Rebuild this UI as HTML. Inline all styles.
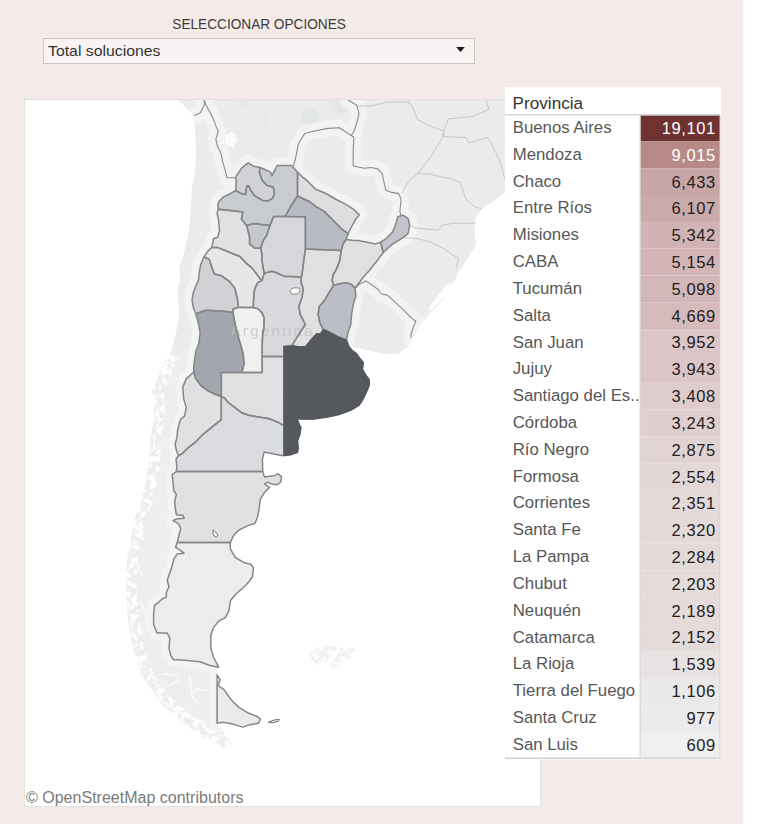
<!DOCTYPE html>
<html><head><meta charset="utf-8"><style>
html,body{margin:0;padding:0;}
body{width:760px;height:824px;position:relative;overflow:hidden;background:#ffffff;}
</style></head><body>
<svg width="760" height="824" viewBox="0 0 760 824" style="position:absolute;left:0;top:0">
<rect x="0" y="0" width="760" height="824" fill="#ffffff"/>
<rect x="0" y="0" width="742.2" height="824" fill="#f4ebe9"/>
<defs><linearGradient id="shd" x1="0" x2="1" y1="0" y2="0"><stop offset="0" stop-color="#000" stop-opacity="0.07"/><stop offset="1" stop-color="#000" stop-opacity="0"/></linearGradient></defs>
<rect x="742.2" y="0" width="2.3" height="824" fill="url(#shd)"/>
<text x="259.1" y="29.4" font-family="Liberation Sans, sans-serif" font-size="15" fill="#3b3b3b" text-anchor="middle" textLength="173.5" lengthAdjust="spacingAndGlyphs" >SELECCIONAR OPCIONES</text>
<rect x="43.5" y="38.5" width="431" height="25" fill="#f9f4f3" stroke="#c8c5c4" stroke-width="1"/>
<text x="48.0" y="56.2" font-family="Liberation Sans, sans-serif" font-size="15" fill="#333333" text-anchor="start" textLength="112.5" lengthAdjust="spacingAndGlyphs" >Total soluciones</text>
<path d="M456.2 47 L464.8 47 L460.5 52 Z" fill="#1a1a1a"/>
<rect x="24.5" y="99.5" width="516" height="707" fill="#ffffff" stroke="#e2e2e2" stroke-width="1"/>
<filter id="speck" filterUnits="userSpaceOnUse" x="100" y="330" width="270" height="430"><feTurbulence type="fractalNoise" baseFrequency="0.16" numOctaves="3" seed="11" result="n"/><feColorMatrix in="n" type="matrix" values="0 0 0 0 1  0 0 0 0 1  0 0 0 0 1  7 0 0 0 -3.3" result="m"/><feComposite in="m" in2="SourceGraphic" operator="in"/></filter>
<clipPath id="mapclip"><rect x="25" y="100" width="515" height="706"/></clipPath>
<g clip-path="url(#mapclip)">
<rect x="24.5" y="99.5" width="516" height="708" fill="#ffffff"/>
<path d="M178.2 100.0 L545.0 100.0 L545.0 185.0 L505.3 192.4 L495.8 199.5 L481.6 209.0 L475.7 218.4 L474.5 232.6 L476.2 244.2 L467.9 258.4 L460.8 267.9 L453.7 282.1 L449.0 286.8 L441.8 301.1 L430.0 312.9 L420.5 324.7 L413.4 336.6 L408.7 346.1 L399.2 353.2 L387.4 354.3 L375.5 352.0 L363.7 349.6 L354.2 347.2 L349.5 343.7 L348.7 346.3 L352.1 350.5 L356.7 353.8 L359.0 357.4 L363.2 362.5 L362.4 369.3 L365.8 375.3 L369.2 379.6 L369.4 384.7 L366.6 391.6 L362.4 400.1 L359.0 405.3 L350.4 410.4 L338.4 414.7 L326.4 417.2 L312.8 419.0 L300.8 419.0 L297.4 418.1 L298.2 422.4 L300.8 427.5 L299.9 434.3 L297.4 441.2 L298.2 448.0 L297.4 452.3 L291.4 454.5 L284.0 455.5 L281.2 455.5 L272.6 453.8 L264.1 452.1 L262.4 459.0 L262.8 471.6 L264.5 477.1 L269.6 476.3 L274.7 475.4 L278.2 473.7 L281.6 477.1 L280.7 482.2 L276.5 484.8 L271.3 483.9 L267.9 482.2 L264.5 483.9 L269.6 487.4 L264.5 492.5 L260.2 499.3 L259.3 507.9 L257.6 516.4 L255.1 523.3 L247.4 525.9 L238.8 530.1 L233.7 535.3 L230.3 542.6 L230.3 548.9 L235.4 557.5 L244.0 562.6 L250.8 564.3 L253.4 567.8 L252.5 576.3 L250.0 580.5 L246.0 585.0 L240.5 590.0 L235.0 595.0 L230.5 600.5 L228.8 610.8 L225.4 617.6 L218.6 621.1 L213.4 627.9 L210.9 634.7 L210.9 648.4 L213.4 657.0 L218.6 667.2 L217.1 672.0 L217.1 674.8 L220.1 679.7 L218.1 685.7 L224.0 689.6 L230.9 699.5 L238.8 707.4 L248.7 713.3 L256.6 716.2 L260.5 719.2 L258.5 723.2 L248.7 725.1 L242.8 727.1 L232.9 724.1 L223.0 722.2 L217.1 723.2 L225.0 735.0 L232.0 744.0 L222.0 748.0 L205.9 738.2 L185.5 724.6 L161.7 704.2 L143.0 677.0 L132.8 649.8 L127.7 615.9 L126.0 581.9 L127.7 554.7 L136.2 514.0 L141.7 500.0 L144.7 487.6 L148.5 466.2 L150.5 437.1 L154.4 417.7 L152.4 390.5 L164.1 363.3 L171.6 350.0 L173.3 343.2 L176.7 329.5 L179.3 315.8 L178.4 302.1 L177.6 288.4 L180.1 281.6 L179.3 266.2 L181.8 261.1 L185.3 247.4 L187.8 237.1 L190.1 219.7 L191.0 202.6 L191.8 189.0 L193.6 180.4 L195.3 168.4 L196.1 151.3 L195.3 134.2 L194.4 120.5 L191.8 113.7 L183.3 105.1 Z" fill="#ebebeb"/>
<path d="M301 112 L306 108 L313 109 L318 113 L320 119 L316 125 L309 126 L303 122 Z" fill="#e3e7e3"/>
<path d="M330 101 L338 100 L346 104 L347 110 L342 114 L335 112 L331 107 Z" fill="#e4e8e4"/>
<path d="M239 101 L246 101 L247 106 L241 107 Z" fill="#e4e7e4"/>
<path d="M263 114 L266 112 L268 120 L265 126 L262 121 Z" fill="#e6e8e6"/>
<clipPath id="landclip"><path d="M178.2 100.0 L545.0 100.0 L545.0 185.0 L505.3 192.4 L495.8 199.5 L481.6 209.0 L475.7 218.4 L474.5 232.6 L476.2 244.2 L467.9 258.4 L460.8 267.9 L453.7 282.1 L449.0 286.8 L441.8 301.1 L430.0 312.9 L420.5 324.7 L413.4 336.6 L408.7 346.1 L399.2 353.2 L387.4 354.3 L375.5 352.0 L363.7 349.6 L354.2 347.2 L349.5 343.7 L348.7 346.3 L352.1 350.5 L356.7 353.8 L359.0 357.4 L363.2 362.5 L362.4 369.3 L365.8 375.3 L369.2 379.6 L369.4 384.7 L366.6 391.6 L362.4 400.1 L359.0 405.3 L350.4 410.4 L338.4 414.7 L326.4 417.2 L312.8 419.0 L300.8 419.0 L297.4 418.1 L298.2 422.4 L300.8 427.5 L299.9 434.3 L297.4 441.2 L298.2 448.0 L297.4 452.3 L291.4 454.5 L284.0 455.5 L281.2 455.5 L272.6 453.8 L264.1 452.1 L262.4 459.0 L262.8 471.6 L264.5 477.1 L269.6 476.3 L274.7 475.4 L278.2 473.7 L281.6 477.1 L280.7 482.2 L276.5 484.8 L271.3 483.9 L267.9 482.2 L264.5 483.9 L269.6 487.4 L264.5 492.5 L260.2 499.3 L259.3 507.9 L257.6 516.4 L255.1 523.3 L247.4 525.9 L238.8 530.1 L233.7 535.3 L230.3 542.6 L230.3 548.9 L235.4 557.5 L244.0 562.6 L250.8 564.3 L253.4 567.8 L252.5 576.3 L250.0 580.5 L246.0 585.0 L240.5 590.0 L235.0 595.0 L230.5 600.5 L228.8 610.8 L225.4 617.6 L218.6 621.1 L213.4 627.9 L210.9 634.7 L210.9 648.4 L213.4 657.0 L218.6 667.2 L217.1 672.0 L217.1 674.8 L220.1 679.7 L218.1 685.7 L224.0 689.6 L230.9 699.5 L238.8 707.4 L248.7 713.3 L256.6 716.2 L260.5 719.2 L258.5 723.2 L248.7 725.1 L242.8 727.1 L232.9 724.1 L223.0 722.2 L217.1 723.2 L225.0 735.0 L232.0 744.0 L222.0 748.0 L205.9 738.2 L185.5 724.6 L161.7 704.2 L143.0 677.0 L132.8 649.8 L127.7 615.9 L126.0 581.9 L127.7 554.7 L136.2 514.0 L141.7 500.0 L144.7 487.6 L148.5 466.2 L150.5 437.1 L154.4 417.7 L152.4 390.5 L164.1 363.3 L171.6 350.0 L173.3 343.2 L176.7 329.5 L179.3 315.8 L178.4 302.1 L177.6 288.4 L180.1 281.6 L179.3 266.2 L181.8 261.1 L185.3 247.4 L187.8 237.1 L190.1 219.7 L191.0 202.6 L191.8 189.0 L193.6 180.4 L195.3 168.4 L196.1 151.3 L195.3 134.2 L194.4 120.5 L191.8 113.7 L183.3 105.1 Z"/></clipPath>
<g clip-path="url(#landclip)">
<path d="M235.5 177.5 L236.3 182.0 L235.7 190.5" fill="none" stroke="#f3f3f3" stroke-width="16" stroke-linejoin="round" stroke-linecap="round"/>
<path d="M235.7 190.5 L229.1 194.3 L223.2 197.1 L218.8 201.5 L217.9 205.0 L218.3 209.3" fill="none" stroke="#f3f3f3" stroke-width="16" stroke-linejoin="round" stroke-linecap="round"/>
<path d="M218.3 209.3 L217.1 213.2 L218.6 220.0 L219.5 230.3 L217.8 237.1 L213.5 238.8 L211.8 247.4" fill="none" stroke="#f3f3f3" stroke-width="16" stroke-linejoin="round" stroke-linecap="round"/>
<path d="M211.8 247.4 L207.5 251.6 L204.1 256.8" fill="none" stroke="#f3f3f3" stroke-width="16" stroke-linejoin="round" stroke-linecap="round"/>
<path d="M204.1 256.8 L200.7 264.5 L199.3 272.0 L198.5 280.0 L195.5 286.7 L193.0 293.6 L192.1 300.4 L193.2 307.2 L195.8 313.8" fill="none" stroke="#f3f3f3" stroke-width="16" stroke-linejoin="round" stroke-linecap="round"/>
<path d="M195.8 313.8 L197.5 320.0 L199.0 326.1 L200.2 333.3 L198.7 343.6 L196.1 350.4 L194.4 360.7 L193.6 368.0 L193.8 372.0" fill="none" stroke="#f3f3f3" stroke-width="16" stroke-linejoin="round" stroke-linecap="round"/>
<path d="M193.8 372.0 L190.0 375.5 L186.3 378.6 L182.8 387.1 L183.7 399.1 L186.3 407.6 L184.5 416.2 L180.3 419.6 L177.7 429.9 L176.8 438.4 L175.1 443.6 L176.0 448.7 L177.7 453.8 L178.6 455.5" fill="none" stroke="#f3f3f3" stroke-width="16" stroke-linejoin="round" stroke-linecap="round"/>
<path d="M178.6 455.5 L176.0 459.0 L176.8 466.0 L176.4 471.6" fill="none" stroke="#f3f3f3" stroke-width="16" stroke-linejoin="round" stroke-linecap="round"/>
<path d="M176.4 471.6 L172.1 474.5 L173.0 482.2 L173.8 490.8 L176.4 494.2 L174.7 501.1 L175.5 509.6 L176.4 514.7 L183.2 515.6 L184.1 518.2 L176.4 519.0 L173.0 520.7 L178.1 523.3 L180.7 528.4 L179.0 535.3 L177.2 542.6" fill="none" stroke="#f3f3f3" stroke-width="16" stroke-linejoin="round" stroke-linecap="round"/>
<path d="M177.2 542.6 L175.5 547.2 L180.7 550.7 L184.1 553.2 L177.2 554.1 L173.8 559.2 L172.1 566.1 L168.7 576.3 L167.2 580.0 L169.0 586.8 L166.4 592.0 L166.2 597.1 L162.1 599.0 L158.7 602.2 L154.4 605.7 L153.6 614.2 L153.6 624.5 L157.0 633.0 L167.2 633.0 L169.8 638.2 L169.0 648.4 L170.7 655.3 L173.2 659.5 L187.8 660.4 L199.7 661.8 L210.0 665.5 L218.6 667.2" fill="none" stroke="#f3f3f3" stroke-width="16" stroke-linejoin="round" stroke-linecap="round"/>
<path d="M235.7 190.5 L236.3 182.0 L235.5 177.5 L236.3 176.1 L241.6 168.2 L248.2 162.9 L253.4 166.2 L260.0 167.5" fill="none" stroke="#f3f3f3" stroke-width="16" stroke-linejoin="round" stroke-linecap="round"/>
<path d="M260.0 167.5 L265.0 169.5 L270.5 172.1 L271.8 176.1 L277.1 165.5 L291.6 165.5 L297.5 172.1" fill="none" stroke="#f3f3f3" stroke-width="16" stroke-linejoin="round" stroke-linecap="round"/>
<path d="M297.5 172.1 L302.6 177.2 L307.1 180.7 L315.7 189.2 L325.9 193.5 L336.2 199.5 L346.4 204.6 L354.1 209.7 L359.3 214.9 L355.9 219.1 L352.4 225.1 L349.9 230.3 L348.2 233.7" fill="none" stroke="#f3f3f3" stroke-width="16" stroke-linejoin="round" stroke-linecap="round"/>
<path d="M348.2 233.7 L346.0 239.5" fill="none" stroke="#f3f3f3" stroke-width="16" stroke-linejoin="round" stroke-linecap="round"/>
<path d="M346.0 239.5 L352.0 240.2 L358.4 240.5 L367.0 242.2 L375.5 243.9 L380.7 242.2" fill="none" stroke="#f3f3f3" stroke-width="16" stroke-linejoin="round" stroke-linecap="round"/>
<path d="M380.7 242.2 L385.8 238.8 L392.6 232.0 L396.1 223.4 L397.8 216.6 L402.9 215.2 L408.0 218.3 L409.7 225.1 L408.0 233.7 L401.2 238.8 L392.6 244.0 L383.2 252.5" fill="none" stroke="#f3f3f3" stroke-width="16" stroke-linejoin="round" stroke-linecap="round"/>
<path d="M383.2 252.5 L375.5 262.8 L368.7 271.3 L363.6 276.8 L358.4 283.7 L355.0 288.3" fill="none" stroke="#f3f3f3" stroke-width="16" stroke-linejoin="round" stroke-linecap="round"/>
<path d="M355.0 288.3 L355.9 295.7 L353.3 304.2 L351.6 314.5 L350.7 324.7 L348.2 331.6 L346.4 340.1" fill="none" stroke="#f3f3f3" stroke-width="16" stroke-linejoin="round" stroke-linecap="round"/>
<path d="M203.8 100.0 L204.7 103.4 L203.0 107.7 L200.4 112.8 L194.4 115.4" fill="none" stroke="#f3f3f3" stroke-width="16" stroke-linejoin="round" stroke-linecap="round"/>
<path d="M204.2 101.0 L206.5 105.9 L212.4 117.1 L216.5 127.4 L218.4 130.8 L215.8 139.3 L217.5 146.2 L220.9 153.0 L222.6 161.6 L225.2 170.1 L226.9 177.8 L234.6 177.8 L235.5 177.5" fill="none" stroke="#f3f3f3" stroke-width="16" stroke-linejoin="round" stroke-linecap="round"/>
<path d="M293.5 166.0 L296.1 155.9 L298.2 144.3 L304.7 133.5 L313.4 131.3 L327.9 128.4 L339.5 127.7 L351.1 135.6 L353.9 137.1" fill="none" stroke="#f3f3f3" stroke-width="16" stroke-linejoin="round" stroke-linecap="round"/>
<path d="M348.2 100.0 L356.8 105.2 L359.0 113.9 L356.8 122.6 L354.0 131.3 L351.1 135.6" fill="none" stroke="#f3f3f3" stroke-width="16" stroke-linejoin="round" stroke-linecap="round"/>
<path d="M353.9 137.1 L353.2 148.7 L353.2 166.0 L364.1 168.2 L371.3 167.5 L377.4 168.7 L382.1 173.4 L385.7 190.0 L391.6 192.4 L398.7 193.6 L401.1 199.5 L399.9 211.3 L401.1 216.1 L402.9 215.2" fill="none" stroke="#f3f3f3" stroke-width="16" stroke-linejoin="round" stroke-linecap="round"/>
<path d="M355.0 288.3 L358.9 284.5 L366.0 280.9 L377.9 289.2 L381.4 294.0 L387.4 295.1 L401.6 308.2 L411.1 317.6 L415.8 321.2 L413.4 327.1 L411.1 334.2 L411.1 337.8" fill="none" stroke="#f3f3f3" stroke-width="16" stroke-linejoin="round" stroke-linecap="round"/>
</g>
<path d="M196.1 350.4 L194.4 360.7 L193.6 368.0 L193.8 372.0 L190.0 375.5 L186.3 378.6 L182.8 387.1 L183.7 399.1 L186.3 407.6 L184.5 416.2 L180.3 419.6 L177.7 429.9 L176.8 438.4 L175.1 443.6 L176.0 448.7 L177.7 453.8 L178.6 455.5 L176.0 459.0 L176.8 466.0 L176.4 471.6 L172.1 474.5 L173.0 482.2 L173.8 490.8 L176.4 494.2 L174.7 501.1 L175.5 509.6 L176.4 514.7 L183.2 515.6 L184.1 518.2 L176.4 519.0 L173.0 520.7 L178.1 523.3 L180.7 528.4 L179.0 535.3 L177.2 542.6 L175.5 547.2 L180.7 550.7 L184.1 553.2 L177.2 554.1 L173.8 559.2 L172.1 566.1 L168.7 576.3 L167.2 580.0 L169.0 586.8 L166.4 592.0 L166.2 597.1 L162.1 599.0 L158.7 602.2 L154.4 605.7 L153.6 614.2 L153.6 624.5 L157.0 633.0 L167.2 633.0 L169.8 638.2 L169.0 648.4 L170.7 655.3 L173.2 659.5 L187.8 660.4 L199.7 661.8 L210.0 665.5 L218.6 667.2 L217.1 672.0 L217.1 723.2 L225.0 735.0 L232.0 744.0 L222.0 748.0 L205.9 738.2 L185.5 724.6 L161.7 704.2 L143.0 677.0 L132.8 649.8 L127.7 615.9 L126.0 581.9 L127.7 554.7 L136.2 514.0 L141.7 500.0 L144.7 487.6 L148.5 466.2 L150.5 437.1 L154.4 417.7 L152.4 390.5 L164.1 363.3 L171.6 350.0 Z" fill="#eeeeee" clip-path="url(#landclip)"/>
<path d="M195.8 313.8 L197.5 320.0 L199.0 326.1 L200.2 333.3 L198.7 343.6 L196.1 350.4 L194.4 360.7 L193.6 368.0 L193.8 372.0" fill="none" stroke="#f4f4f4" stroke-width="14" stroke-linejoin="round" stroke-linecap="round" clip-path="url(#landclip)"/>
<path d="M193.8 372.0 L190.0 375.5 L186.3 378.6 L182.8 387.1 L183.7 399.1 L186.3 407.6 L184.5 416.2 L180.3 419.6 L177.7 429.9 L176.8 438.4 L175.1 443.6 L176.0 448.7 L177.7 453.8 L178.6 455.5" fill="none" stroke="#f4f4f4" stroke-width="14" stroke-linejoin="round" stroke-linecap="round" clip-path="url(#landclip)"/>
<path d="M178.6 455.5 L176.0 459.0 L176.8 466.0 L176.4 471.6" fill="none" stroke="#f4f4f4" stroke-width="14" stroke-linejoin="round" stroke-linecap="round" clip-path="url(#landclip)"/>
<path d="M176.4 471.6 L172.1 474.5 L173.0 482.2 L173.8 490.8 L176.4 494.2 L174.7 501.1 L175.5 509.6 L176.4 514.7 L183.2 515.6 L184.1 518.2 L176.4 519.0 L173.0 520.7 L178.1 523.3 L180.7 528.4 L179.0 535.3 L177.2 542.6" fill="none" stroke="#f4f4f4" stroke-width="14" stroke-linejoin="round" stroke-linecap="round" clip-path="url(#landclip)"/>
<path d="M177.2 542.6 L175.5 547.2 L180.7 550.7 L184.1 553.2 L177.2 554.1 L173.8 559.2 L172.1 566.1 L168.7 576.3 L167.2 580.0 L169.0 586.8 L166.4 592.0 L166.2 597.1 L162.1 599.0 L158.7 602.2 L154.4 605.7 L153.6 614.2 L153.6 624.5 L157.0 633.0 L167.2 633.0 L169.8 638.2 L169.0 648.4 L170.7 655.3 L173.2 659.5 L187.8 660.4 L199.7 661.8 L210.0 665.5 L218.6 667.2" fill="none" stroke="#f4f4f4" stroke-width="14" stroke-linejoin="round" stroke-linecap="round" clip-path="url(#landclip)"/>
<path d="M217.1 668.0 L217.1 726.0" fill="none" stroke="#f4f4f4" stroke-width="14" stroke-linejoin="round" stroke-linecap="round" clip-path="url(#landclip)"/>
<path d="M171.6 350.0 L164.1 363.3 L152.4 390.5 L154.4 417.7 L150.5 437.1 L148.5 466.2 L144.7 487.6 L141.7 500.0 L136.2 514.0 L127.7 554.7 L126.0 581.9 L127.7 615.9 L132.8 649.8 L143.0 677.0 L161.7 704.2 L185.5 724.6 L205.9 738.2 L222.0 748.0 L232.0 744.0" fill="none" stroke="#ffffff" stroke-width="22" stroke-linejoin="round" filter="url(#speck)"/>
<path d="M189.7 676.4 L191.0 688.0 L192.6 698.2 L198.4 702.6" fill="none" stroke="#fbfbfb" stroke-width="1.6" stroke-linejoin="round" stroke-linecap="round"/>
<path d="M163.5 673.5 L171.0 675.0 L178.0 674.5" fill="none" stroke="#fbfbfb" stroke-width="1.6" stroke-linejoin="round" stroke-linecap="round"/>
<path d="M170.8 685.0 L176.0 682.0 L179.5 680.7" fill="none" stroke="#fbfbfb" stroke-width="1.6" stroke-linejoin="round" stroke-linecap="round"/>
<path d="M192.6 692.4 L198.0 689.0 L206.7 690.9" fill="none" stroke="#fbfbfb" stroke-width="1.6" stroke-linejoin="round" stroke-linecap="round"/>
<path d="M145.0 690.0 L160.0 700.0 L175.0 710.0 L190.0 718.0 L205.0 722.0" fill="none" stroke="#fbfbfb" stroke-width="1.6" stroke-linejoin="round" stroke-linecap="round"/>
<path d="M140.0 600.0 L146.0 615.0 L148.0 630.0" fill="none" stroke="#fbfbfb" stroke-width="1.6" stroke-linejoin="round" stroke-linecap="round"/>
<path d="M135.0 560.0 L142.0 575.0" fill="none" stroke="#fbfbfb" stroke-width="1.6" stroke-linejoin="round" stroke-linecap="round"/>
<path d="M138.0 525.0 L143.0 540.0" fill="none" stroke="#fbfbfb" stroke-width="1.6" stroke-linejoin="round" stroke-linecap="round"/>
<path d="M310.5 653.9 L319.2 646 L335.8 646 L336.6 650 L331 657.1 L324.7 663.4 L319.2 665.8 L313.7 661.8 L310.5 657.1 Z M338.9 648.4 L344.5 646 L353.9 648.4 L356.3 652.4 L352.4 657.1 L346 661 L340.5 664.2 L331 668.9 L330.3 665 L334.2 658.7 L338.2 653.2 Z" fill="#f1f1f1"/>
<path d="M310.5 653.9 L319.2 646 L335.8 646 L336.6 650 L331 657.1 L324.7 663.4 L319.2 665.8 L313.7 661.8 L310.5 657.1 Z M338.9 648.4 L344.5 646 L353.9 648.4 L356.3 652.4 L352.4 657.1 L346 661 L340.5 664.2 L331 668.9 L330.3 665 L334.2 658.7 L338.2 653.2 Z" fill="#ffffff" stroke="#ffffff" stroke-width="2" filter="url(#speck)"/>
<path d="M408.2 100.0 L413.0 108.0 L417.9 120.0 L430.0 126.0 L443.7 131.0 L441.8 138.4 L436.0 148.0 L430.8 156.8 L424.0 165.0 L417.9 173.4 L410.0 180.0 L405.0 186.3 L402.2 193.5" fill="none" stroke="#bdbdbd" stroke-width="0.8" stroke-linejoin="round"/>
<path d="M443.7 131.0 L443.7 136.6 L455.0 137.0 L465.8 137.5 L469.4 143.0 L478.0 140.0 L487.9 137.5 L491.5 143.9 L498.9 158.7 L502.0 168.0 L504.4 177.1 L507.0 185.0" fill="none" stroke="#bdbdbd" stroke-width="0.8" stroke-linejoin="round"/>
<path d="M486.3 100.0 L488.7 109.5 L472.1 116.6 L448.4 118.9 L443.7 131.0" fill="none" stroke="#bdbdbd" stroke-width="0.8" stroke-linejoin="round"/>
<path d="M417.9 173.4 L430.8 174.3 L451.0 178.9 L460.2 182.6 L463.0 190.0 L465.8 199.2 L474.5 206.6 L481.6 209.0" fill="none" stroke="#bdbdbd" stroke-width="0.8" stroke-linejoin="round"/>
<path d="M409.7 225.1 L415.3 227.9 L439.0 230.3 L441.3 225.5 L453.2 223.2 L474.8 223.2" fill="none" stroke="#bdbdbd" stroke-width="0.8" stroke-linejoin="round"/>
<path d="M404.0 238.0 L415.8 238.3 L430.0 241.8 L444.2 248.9 L451.3 253.7 L458.4 258.4 L456.1 267.9" fill="none" stroke="#bdbdbd" stroke-width="0.8" stroke-linejoin="round"/>
<path d="M357.5 106.0 L370.4 106.2 L386.7 102.1 L407.0 102.1 L410.0 104.0" fill="none" stroke="#bdbdbd" stroke-width="0.8" stroke-linejoin="round"/>
<path d="M203.8 100.0 L204.7 103.4 L203.0 107.7 L200.4 112.8 L194.4 115.4" fill="none" stroke="#8a8a8a" stroke-width="1.1" stroke-linejoin="round"/>
<path d="M204.2 101.0 L206.5 105.9 L212.4 117.1 L216.5 127.4 L218.4 130.8 L215.8 139.3 L217.5 146.2 L220.9 153.0 L222.6 161.6 L225.2 170.1 L226.9 177.8 L234.6 177.8 L235.5 177.5" fill="none" stroke="#8a8a8a" stroke-width="1.1" stroke-linejoin="round"/>
<path d="M293.5 166.0 L296.1 155.9 L298.2 144.3 L304.7 133.5 L313.4 131.3 L327.9 128.4 L339.5 127.7 L351.1 135.6 L353.9 137.1" fill="none" stroke="#8a8a8a" stroke-width="1.1" stroke-linejoin="round"/>
<path d="M348.2 100.0 L356.8 105.2 L359.0 113.9 L356.8 122.6 L354.0 131.3 L351.1 135.6" fill="none" stroke="#8a8a8a" stroke-width="1.1" stroke-linejoin="round"/>
<path d="M353.9 137.1 L353.2 148.7 L353.2 166.0 L364.1 168.2 L371.3 167.5 L377.4 168.7 L382.1 173.4 L385.7 190.0 L391.6 192.4 L398.7 193.6 L401.1 199.5 L399.9 211.3 L401.1 216.1 L402.9 215.2" fill="none" stroke="#8a8a8a" stroke-width="1.1" stroke-linejoin="round"/>
<path d="M355.0 288.3 L358.9 284.5 L366.0 280.9 L377.9 289.2 L381.4 294.0 L387.4 295.1 L401.6 308.2 L411.1 317.6 L415.8 321.2 L413.4 327.1 L411.1 334.2 L411.1 337.8" fill="none" stroke="#8a8a8a" stroke-width="1.1" stroke-linejoin="round"/>
<path d="M224.3 135.9 L231.2 131.6 L235 134 L238 141.1 L232.9 147.9 L226.1 144.5 Z" fill="#fbfbfb"/>
<path d="M451.3 282.1 L449 290 L441 300 L432 309 L428.5 311 L431 305 L438 296 L446 285 Z" fill="#ffffff"/>
<path d="M291.7 345.9 L297.0 346.6 L305.8 346.7 L311.0 340.0 L316.8 333.8 L320.5 333.8 L323.4 329.9 L325.1 330.1 L330.0 332.6 L337.9 336.8 L346.4 340.1 L348.7 346.3 L352.1 350.5 L356.7 353.8 L359.0 357.4 L363.2 362.5 L362.4 369.3 L365.8 375.3 L369.2 379.6 L369.4 384.7 L366.6 391.6 L362.4 400.1 L359.0 405.3 L350.4 410.4 L338.4 414.7 L326.4 417.2 L312.8 419.0 L300.8 419.0 L297.4 418.1 L298.2 422.4 L300.8 427.5 L299.9 434.3 L297.4 441.2 L298.2 448.0 L297.4 452.3 L291.4 454.5 L284.0 455.5 L284.0 425.6 L284.0 356.4 L284.0 346.6 L291.7 345.9 Z" fill="#55595e"/>
<path d="M195.8 313.8 L197.5 320.0 L199.0 326.1 L200.2 333.3 L198.7 343.6 L196.1 350.4 L194.4 360.7 L193.6 368.0 L193.8 372.0 L195.7 378.6 L201.6 386.3 L207.6 390.5 L214.5 394.0 L221.3 396.5 L221.3 372.4 L242.5 372.4 L242.3 370.9 L244.0 364.1 L243.2 353.8 L239.7 341.8 L236.3 329.9 L234.6 321.3 L233.0 312.5 L226.3 311.5 L216.1 310.7 L205.8 310.2 L195.8 313.8 Z" fill="#a2a6ae"/>
<path d="M297.5 196.0 L291.0 206.0 L285.0 216.6 L305.4 216.8 L305.4 249.1 L341.3 250.4 L343.0 244.0 L346.0 239.5 L348.2 233.7 L341.3 228.6 L332.8 220.0 L324.2 211.4 L315.7 206.3 L308.8 201.2 L297.5 196.0 Z" fill="#b8bbc4"/>
<path d="M323.4 329.9 L319.9 323.0 L318.2 314.5 L319.1 306.8 L324.2 300.8 L329.3 292.2 L333.6 285.4 L339.6 283.7 L346.4 282.8 L351.6 284.5 L355.0 288.3 L355.9 295.7 L353.3 304.2 L351.6 314.5 L350.7 324.7 L348.2 331.6 L346.4 340.1 L337.9 336.8 L330.0 332.6 L325.1 330.1 L323.4 329.9 Z" fill="#bbbec6"/>
<path d="M380.7 242.2 L385.8 238.8 L392.6 232.0 L396.1 223.4 L397.8 216.6 L402.9 215.2 L408.0 218.3 L409.7 225.1 L408.0 233.7 L401.2 238.8 L392.6 244.0 L383.2 252.5 L380.7 242.2 Z" fill="#c2c5cb"/>
<path d="M246.5 225.5 L251.3 224.3 L256.4 223.4 L263.3 225.1 L270.1 225.1 L266.7 235.4 L263.3 240.5 L260.7 248.2 L254.7 248.2 L249.6 244.0 L249.6 237.1 L247.9 230.3 L246.5 225.5 Z" fill="#c4c7cc"/>
<path d="M235.7 190.5 L240.3 193.2 L245.5 194.5 L246.8 185.9 L248.8 185.9 L250.8 190.5 L254.7 195.8 L262.6 200.4 L267.9 201.1 L272.5 198.4 L274.5 193.2 L273.2 187.2 L266.6 185.3 L262.0 180.0 L259.3 172.1 L260.0 167.5 L265.0 169.5 L270.5 172.1 L271.8 176.1 L277.1 165.5 L291.6 165.5 L297.5 172.1 L297.5 196.0 L291.0 206.0 L285.0 216.6 L273.6 216.6 L270.1 225.1 L263.3 225.1 L256.4 223.4 L251.3 224.3 L246.5 225.5 L241.4 219.0 L242.8 212.0 L230.0 210.5 L218.3 209.3 L217.9 205.0 L218.8 201.5 L223.2 197.1 L229.1 194.3 L235.7 190.5 Z" fill="#c8cbcf"/>
<path d="M204.1 256.8 L200.7 264.5 L199.3 272.0 L198.5 280.0 L195.5 286.7 L193.0 293.6 L192.1 300.4 L193.2 307.2 L195.8 313.8 L205.8 310.2 L216.1 310.7 L226.3 311.5 L233.0 312.5 L232.9 309.3 L238.3 307.2 L237.4 298.7 L234.9 288.4 L229.7 281.6 L221.2 275.6 L214.3 273.9 L212.6 269.6 L209.2 259.3 L204.1 256.8 Z" fill="#d0d2d6"/>
<path d="M235.7 190.5 L236.3 182.0 L235.5 177.5 L236.3 176.1 L241.6 168.2 L248.2 162.9 L253.4 166.2 L260.0 167.5 L259.3 172.1 L262.0 180.0 L266.6 185.3 L273.2 187.2 L274.5 193.2 L272.5 198.4 L267.9 201.1 L262.6 200.4 L254.7 195.8 L250.8 190.5 L248.8 185.9 L246.8 185.9 L245.5 194.5 L240.3 193.2 L235.7 190.5 Z" fill="#d0d2d6"/>
<path d="M270.1 225.1 L273.6 216.6 L285.0 216.6 L305.4 216.8 L305.4 249.1 L303.7 261.1 L303.2 265.5 L302.0 274.7 L301.1 277.3 L298.9 277.1 L292.6 276.6 L285.3 276.6 L280.0 274.5 L275.8 272.4 L271.6 271.3 L264.2 273.4 L263.0 267.0 L262.0 261.0 L262.2 256.0 L260.7 248.2 L263.3 240.5 L266.7 235.4 L270.1 225.1 Z" fill="#d6d7db"/>
<path d="M264.2 273.4 L271.6 271.3 L275.8 272.4 L280.0 274.5 L285.3 276.6 L292.6 276.6 L298.9 277.1 L301.1 277.3 L301.1 282.4 L303.2 288.7 L302.1 297.1 L298.9 306.6 L300.0 313.9 L303.2 320.3 L305.3 324.5 L301.1 330.8 L298.4 335.0 L291.7 345.9 L284.0 346.6 L284.0 356.4 L262.2 356.4 L262.2 345.0 L262.6 335.0 L263.7 328.7 L264.2 318.2 L262.1 312.9 L257.9 308.7 L253.2 307.6 L253.7 297.1 L254.7 288.7 L257.9 282.4 L262.1 280.3 L264.2 273.4 Z" fill="#d8d9dd"/>
<path d="M221.3 396.5 L224.7 398.2 L228.2 402.5 L235.0 407.6 L241.8 412.8 L248.7 415.3 L259.0 417.0 L269.2 418.8 L277.8 422.2 L284.0 425.6 L284.0 455.5 L281.2 455.5 L272.6 453.8 L264.1 452.1 L262.4 459.0 L262.8 471.6 L176.4 471.6 L176.8 466.0 L176.0 459.0 L178.6 455.5 L182.0 453.8 L187.1 448.7 L195.7 441.8 L204.2 433.3 L212.8 426.4 L221.3 419.6 L221.3 396.5 Z" fill="#dbdcdf"/>
<path d="M297.5 172.1 L302.6 177.2 L307.1 180.7 L315.7 189.2 L325.9 193.5 L336.2 199.5 L346.4 204.6 L354.1 209.7 L359.3 214.9 L355.9 219.1 L352.4 225.1 L349.9 230.3 L348.2 233.7 L341.3 228.6 L332.8 220.0 L324.2 211.4 L315.7 206.3 L308.8 201.2 L297.5 196.0 L297.5 172.1 Z" fill="#dedee1"/>
<path d="M346.0 239.5 L352.0 240.2 L358.4 240.5 L367.0 242.2 L375.5 243.9 L380.7 242.2 L383.2 252.5 L375.5 262.8 L368.7 271.3 L363.6 276.8 L358.4 283.7 L355.0 288.3 L351.6 284.5 L346.4 282.8 L339.6 283.7 L333.6 285.4 L332.2 280.3 L333.0 275.0 L336.2 269.6 L339.6 261.1 L341.3 250.4 L343.0 244.0 L346.0 239.5 Z" fill="#dfe0e2"/>
<path d="M305.4 249.1 L341.3 250.4 L339.6 261.1 L336.2 269.6 L333.0 275.0 L332.2 280.3 L333.6 285.4 L329.3 292.2 L324.2 300.8 L319.1 306.8 L318.2 314.5 L319.9 323.0 L323.4 329.9 L320.5 333.8 L316.8 333.8 L311.0 340.0 L305.8 346.7 L297.0 346.6 L291.7 345.9 L298.4 335.0 L301.1 330.8 L305.3 324.5 L303.2 320.3 L300.0 313.9 L298.9 306.6 L302.1 297.1 L303.2 288.7 L301.1 282.4 L301.1 277.3 L302.0 274.7 L303.2 265.5 L303.7 261.1 L305.4 249.1 Z" fill="#e0e0e2"/>
<path d="M262.2 356.4 L284.0 356.4 L284.0 425.6 L277.8 422.2 L269.2 418.8 L259.0 417.0 L248.7 415.3 L241.8 412.8 L235.0 407.6 L228.2 402.5 L224.7 398.2 L221.3 396.5 L221.3 372.4 L242.5 372.4 L262.2 372.4 L262.2 356.4 Z" fill="#e0e0e2"/>
<path d="M176.4 471.6 L262.8 471.6 L264.5 477.1 L269.6 476.3 L274.7 475.4 L278.2 473.7 L281.6 477.1 L280.7 482.2 L276.5 484.8 L271.3 483.9 L267.9 482.2 L264.5 483.9 L269.6 487.4 L264.5 492.5 L260.2 499.3 L259.3 507.9 L257.6 516.4 L255.1 523.3 L247.4 525.9 L238.8 530.1 L233.7 535.3 L230.3 542.6 L177.2 542.6 L179.0 535.3 L180.7 528.4 L178.1 523.3 L173.0 520.7 L176.4 519.0 L184.1 518.2 L183.2 515.6 L176.4 514.7 L175.5 509.6 L174.7 501.1 L176.4 494.2 L173.8 490.8 L173.0 482.2 L172.1 474.5 L176.4 471.6 Z" fill="#e1e1e3"/>
<path d="M193.8 372.0 L190.0 375.5 L186.3 378.6 L182.8 387.1 L183.7 399.1 L186.3 407.6 L184.5 416.2 L180.3 419.6 L177.7 429.9 L176.8 438.4 L175.1 443.6 L176.0 448.7 L177.7 453.8 L178.6 455.5 L182.0 453.8 L187.1 448.7 L195.7 441.8 L204.2 433.3 L212.8 426.4 L221.3 419.6 L221.3 396.5 L214.5 394.0 L207.6 390.5 L201.6 386.3 L195.7 378.6 L193.8 372.0 Z" fill="#e1e1e3"/>
<path d="M218.3 209.3 L230.0 210.5 L242.8 212.0 L241.4 219.0 L246.5 225.5 L247.9 230.3 L249.6 237.1 L249.6 244.0 L254.7 248.2 L260.7 248.2 L262.2 256.0 L262.0 261.0 L263.0 267.0 L264.2 273.4 L262.1 280.3 L260.5 279.2 L255.8 272.9 L251.6 267.6 L246.3 263.4 L240.0 256.5 L234.2 254.2 L225.7 250.8 L217.8 247.6 L211.8 247.4 L213.5 238.8 L217.8 237.1 L219.5 230.3 L218.6 220.0 L217.1 213.2 L218.3 209.3 Z" fill="#e1e1e3"/>
<path d="M211.8 247.4 L207.5 251.6 L204.1 256.8 L209.2 259.3 L212.6 269.6 L214.3 273.9 L221.2 275.6 L229.7 281.6 L234.9 288.4 L237.4 298.7 L238.3 307.2 L246.3 307.6 L253.2 307.6 L253.7 297.1 L254.7 288.7 L257.9 282.4 L262.1 280.3 L260.5 279.2 L255.8 272.9 L251.6 267.6 L246.3 263.4 L240.0 256.5 L234.2 254.2 L225.7 250.8 L217.8 247.6 L211.8 247.4 Z" fill="#e7e7e8"/>
<path d="M217.1 674.8 L220.1 679.7 L218.1 685.7 L224.0 689.6 L230.9 699.5 L238.8 707.4 L248.7 713.3 L256.6 716.2 L260.5 719.2 L258.5 723.2 L248.7 725.1 L242.8 727.1 L232.9 724.1 L223.0 722.2 L217.1 723.2 Z" fill="#ebebec"/>
<path d="M177.2 542.6 L230.3 542.6 L230.3 548.9 L235.4 557.5 L244.0 562.6 L250.8 564.3 L253.4 567.8 L252.5 576.3 L250.0 580.5 L246.0 585.0 L240.5 590.0 L235.0 595.0 L230.5 600.5 L228.8 610.8 L225.4 617.6 L218.6 621.1 L213.4 627.9 L210.9 634.7 L210.9 648.4 L213.4 657.0 L218.6 667.2 L210.0 665.5 L199.7 661.8 L187.8 660.4 L173.2 659.5 L170.7 655.3 L169.0 648.4 L169.8 638.2 L167.2 633.0 L157.0 633.0 L153.6 624.5 L153.6 614.2 L154.4 605.7 L158.7 602.2 L162.1 599.0 L166.2 597.1 L166.4 592.0 L169.0 586.8 L167.2 580.0 L168.7 576.3 L172.1 566.1 L173.8 559.2 L177.2 554.1 L184.1 553.2 L180.7 550.7 L175.5 547.2 L177.2 542.6 Z" fill="#ececed"/>
<path d="M238.3 307.2 L246.3 307.6 L253.2 307.6 L257.9 308.7 L262.1 312.9 L264.2 318.2 L263.7 328.7 L262.6 335.0 L262.2 345.0 L262.2 356.4 L262.2 372.4 L242.5 372.4 L242.3 370.9 L244.0 364.1 L243.2 353.8 L239.7 341.8 L236.3 329.9 L234.6 321.3 L233.0 312.5 L232.9 309.3 L238.3 307.2 Z" fill="#f0f0f0"/>
<text x="230.6" y="335.8" font-family="Liberation Sans, sans-serif" font-size="15.3" textLength="82" lengthAdjust="spacing" fill="rgb(190,190,190)" fill-opacity="0.7">Argentina</text>
<path d="M291.7 345.9 L297.0 346.6 L305.8 346.7 L311.0 340.0 L316.8 333.8 L320.5 333.8 L323.4 329.9 L325.1 330.1 L330.0 332.6 L337.9 336.8 L346.4 340.1 L348.7 346.3 L352.1 350.5 L356.7 353.8 L359.0 357.4 L363.2 362.5 L362.4 369.3 L365.8 375.3 L369.2 379.6 L369.4 384.7 L366.6 391.6 L362.4 400.1 L359.0 405.3 L350.4 410.4 L338.4 414.7 L326.4 417.2 L312.8 419.0 L300.8 419.0 L297.4 418.1 L298.2 422.4 L300.8 427.5 L299.9 434.3 L297.4 441.2 L298.2 448.0 L297.4 452.3 L291.4 454.5 L284.0 455.5 L284.0 425.6 L284.0 356.4 L284.0 346.6 L291.7 345.9 Z" fill="none" stroke="#868686" stroke-width="1.5" stroke-linejoin="round"/>
<path d="M195.8 313.8 L197.5 320.0 L199.0 326.1 L200.2 333.3 L198.7 343.6 L196.1 350.4 L194.4 360.7 L193.6 368.0 L193.8 372.0 L195.7 378.6 L201.6 386.3 L207.6 390.5 L214.5 394.0 L221.3 396.5 L221.3 372.4 L242.5 372.4 L242.3 370.9 L244.0 364.1 L243.2 353.8 L239.7 341.8 L236.3 329.9 L234.6 321.3 L233.0 312.5 L226.3 311.5 L216.1 310.7 L205.8 310.2 L195.8 313.8 Z" fill="none" stroke="#868686" stroke-width="1.5" stroke-linejoin="round"/>
<path d="M297.5 196.0 L291.0 206.0 L285.0 216.6 L305.4 216.8 L305.4 249.1 L341.3 250.4 L343.0 244.0 L346.0 239.5 L348.2 233.7 L341.3 228.6 L332.8 220.0 L324.2 211.4 L315.7 206.3 L308.8 201.2 L297.5 196.0 Z" fill="none" stroke="#868686" stroke-width="1.5" stroke-linejoin="round"/>
<path d="M323.4 329.9 L319.9 323.0 L318.2 314.5 L319.1 306.8 L324.2 300.8 L329.3 292.2 L333.6 285.4 L339.6 283.7 L346.4 282.8 L351.6 284.5 L355.0 288.3 L355.9 295.7 L353.3 304.2 L351.6 314.5 L350.7 324.7 L348.2 331.6 L346.4 340.1 L337.9 336.8 L330.0 332.6 L325.1 330.1 L323.4 329.9 Z" fill="none" stroke="#868686" stroke-width="1.5" stroke-linejoin="round"/>
<path d="M380.7 242.2 L385.8 238.8 L392.6 232.0 L396.1 223.4 L397.8 216.6 L402.9 215.2 L408.0 218.3 L409.7 225.1 L408.0 233.7 L401.2 238.8 L392.6 244.0 L383.2 252.5 L380.7 242.2 Z" fill="none" stroke="#868686" stroke-width="1.5" stroke-linejoin="round"/>
<path d="M246.5 225.5 L251.3 224.3 L256.4 223.4 L263.3 225.1 L270.1 225.1 L266.7 235.4 L263.3 240.5 L260.7 248.2 L254.7 248.2 L249.6 244.0 L249.6 237.1 L247.9 230.3 L246.5 225.5 Z" fill="none" stroke="#868686" stroke-width="1.5" stroke-linejoin="round"/>
<path d="M235.7 190.5 L240.3 193.2 L245.5 194.5 L246.8 185.9 L248.8 185.9 L250.8 190.5 L254.7 195.8 L262.6 200.4 L267.9 201.1 L272.5 198.4 L274.5 193.2 L273.2 187.2 L266.6 185.3 L262.0 180.0 L259.3 172.1 L260.0 167.5 L265.0 169.5 L270.5 172.1 L271.8 176.1 L277.1 165.5 L291.6 165.5 L297.5 172.1 L297.5 196.0 L291.0 206.0 L285.0 216.6 L273.6 216.6 L270.1 225.1 L263.3 225.1 L256.4 223.4 L251.3 224.3 L246.5 225.5 L241.4 219.0 L242.8 212.0 L230.0 210.5 L218.3 209.3 L217.9 205.0 L218.8 201.5 L223.2 197.1 L229.1 194.3 L235.7 190.5 Z" fill="none" stroke="#868686" stroke-width="1.5" stroke-linejoin="round"/>
<path d="M204.1 256.8 L200.7 264.5 L199.3 272.0 L198.5 280.0 L195.5 286.7 L193.0 293.6 L192.1 300.4 L193.2 307.2 L195.8 313.8 L205.8 310.2 L216.1 310.7 L226.3 311.5 L233.0 312.5 L232.9 309.3 L238.3 307.2 L237.4 298.7 L234.9 288.4 L229.7 281.6 L221.2 275.6 L214.3 273.9 L212.6 269.6 L209.2 259.3 L204.1 256.8 Z" fill="none" stroke="#868686" stroke-width="1.5" stroke-linejoin="round"/>
<path d="M235.7 190.5 L236.3 182.0 L235.5 177.5 L236.3 176.1 L241.6 168.2 L248.2 162.9 L253.4 166.2 L260.0 167.5 L259.3 172.1 L262.0 180.0 L266.6 185.3 L273.2 187.2 L274.5 193.2 L272.5 198.4 L267.9 201.1 L262.6 200.4 L254.7 195.8 L250.8 190.5 L248.8 185.9 L246.8 185.9 L245.5 194.5 L240.3 193.2 L235.7 190.5 Z" fill="none" stroke="#868686" stroke-width="1.5" stroke-linejoin="round"/>
<path d="M270.1 225.1 L273.6 216.6 L285.0 216.6 L305.4 216.8 L305.4 249.1 L303.7 261.1 L303.2 265.5 L302.0 274.7 L301.1 277.3 L298.9 277.1 L292.6 276.6 L285.3 276.6 L280.0 274.5 L275.8 272.4 L271.6 271.3 L264.2 273.4 L263.0 267.0 L262.0 261.0 L262.2 256.0 L260.7 248.2 L263.3 240.5 L266.7 235.4 L270.1 225.1 Z" fill="none" stroke="#868686" stroke-width="1.5" stroke-linejoin="round"/>
<path d="M264.2 273.4 L271.6 271.3 L275.8 272.4 L280.0 274.5 L285.3 276.6 L292.6 276.6 L298.9 277.1 L301.1 277.3 L301.1 282.4 L303.2 288.7 L302.1 297.1 L298.9 306.6 L300.0 313.9 L303.2 320.3 L305.3 324.5 L301.1 330.8 L298.4 335.0 L291.7 345.9 L284.0 346.6 L284.0 356.4 L262.2 356.4 L262.2 345.0 L262.6 335.0 L263.7 328.7 L264.2 318.2 L262.1 312.9 L257.9 308.7 L253.2 307.6 L253.7 297.1 L254.7 288.7 L257.9 282.4 L262.1 280.3 L264.2 273.4 Z" fill="none" stroke="#868686" stroke-width="1.5" stroke-linejoin="round"/>
<path d="M221.3 396.5 L224.7 398.2 L228.2 402.5 L235.0 407.6 L241.8 412.8 L248.7 415.3 L259.0 417.0 L269.2 418.8 L277.8 422.2 L284.0 425.6 L284.0 455.5 L281.2 455.5 L272.6 453.8 L264.1 452.1 L262.4 459.0 L262.8 471.6 L176.4 471.6 L176.8 466.0 L176.0 459.0 L178.6 455.5 L182.0 453.8 L187.1 448.7 L195.7 441.8 L204.2 433.3 L212.8 426.4 L221.3 419.6 L221.3 396.5 Z" fill="none" stroke="#868686" stroke-width="1.5" stroke-linejoin="round"/>
<path d="M297.5 172.1 L302.6 177.2 L307.1 180.7 L315.7 189.2 L325.9 193.5 L336.2 199.5 L346.4 204.6 L354.1 209.7 L359.3 214.9 L355.9 219.1 L352.4 225.1 L349.9 230.3 L348.2 233.7 L341.3 228.6 L332.8 220.0 L324.2 211.4 L315.7 206.3 L308.8 201.2 L297.5 196.0 L297.5 172.1 Z" fill="none" stroke="#868686" stroke-width="1.5" stroke-linejoin="round"/>
<path d="M346.0 239.5 L352.0 240.2 L358.4 240.5 L367.0 242.2 L375.5 243.9 L380.7 242.2 L383.2 252.5 L375.5 262.8 L368.7 271.3 L363.6 276.8 L358.4 283.7 L355.0 288.3 L351.6 284.5 L346.4 282.8 L339.6 283.7 L333.6 285.4 L332.2 280.3 L333.0 275.0 L336.2 269.6 L339.6 261.1 L341.3 250.4 L343.0 244.0 L346.0 239.5 Z" fill="none" stroke="#868686" stroke-width="1.5" stroke-linejoin="round"/>
<path d="M305.4 249.1 L341.3 250.4 L339.6 261.1 L336.2 269.6 L333.0 275.0 L332.2 280.3 L333.6 285.4 L329.3 292.2 L324.2 300.8 L319.1 306.8 L318.2 314.5 L319.9 323.0 L323.4 329.9 L320.5 333.8 L316.8 333.8 L311.0 340.0 L305.8 346.7 L297.0 346.6 L291.7 345.9 L298.4 335.0 L301.1 330.8 L305.3 324.5 L303.2 320.3 L300.0 313.9 L298.9 306.6 L302.1 297.1 L303.2 288.7 L301.1 282.4 L301.1 277.3 L302.0 274.7 L303.2 265.5 L303.7 261.1 L305.4 249.1 Z" fill="none" stroke="#868686" stroke-width="1.5" stroke-linejoin="round"/>
<path d="M262.2 356.4 L284.0 356.4 L284.0 425.6 L277.8 422.2 L269.2 418.8 L259.0 417.0 L248.7 415.3 L241.8 412.8 L235.0 407.6 L228.2 402.5 L224.7 398.2 L221.3 396.5 L221.3 372.4 L242.5 372.4 L262.2 372.4 L262.2 356.4 Z" fill="none" stroke="#868686" stroke-width="1.5" stroke-linejoin="round"/>
<path d="M176.4 471.6 L262.8 471.6 L264.5 477.1 L269.6 476.3 L274.7 475.4 L278.2 473.7 L281.6 477.1 L280.7 482.2 L276.5 484.8 L271.3 483.9 L267.9 482.2 L264.5 483.9 L269.6 487.4 L264.5 492.5 L260.2 499.3 L259.3 507.9 L257.6 516.4 L255.1 523.3 L247.4 525.9 L238.8 530.1 L233.7 535.3 L230.3 542.6 L177.2 542.6 L179.0 535.3 L180.7 528.4 L178.1 523.3 L173.0 520.7 L176.4 519.0 L184.1 518.2 L183.2 515.6 L176.4 514.7 L175.5 509.6 L174.7 501.1 L176.4 494.2 L173.8 490.8 L173.0 482.2 L172.1 474.5 L176.4 471.6 Z" fill="none" stroke="#868686" stroke-width="1.5" stroke-linejoin="round"/>
<path d="M193.8 372.0 L190.0 375.5 L186.3 378.6 L182.8 387.1 L183.7 399.1 L186.3 407.6 L184.5 416.2 L180.3 419.6 L177.7 429.9 L176.8 438.4 L175.1 443.6 L176.0 448.7 L177.7 453.8 L178.6 455.5 L182.0 453.8 L187.1 448.7 L195.7 441.8 L204.2 433.3 L212.8 426.4 L221.3 419.6 L221.3 396.5 L214.5 394.0 L207.6 390.5 L201.6 386.3 L195.7 378.6 L193.8 372.0 Z" fill="none" stroke="#868686" stroke-width="1.5" stroke-linejoin="round"/>
<path d="M218.3 209.3 L230.0 210.5 L242.8 212.0 L241.4 219.0 L246.5 225.5 L247.9 230.3 L249.6 237.1 L249.6 244.0 L254.7 248.2 L260.7 248.2 L262.2 256.0 L262.0 261.0 L263.0 267.0 L264.2 273.4 L262.1 280.3 L260.5 279.2 L255.8 272.9 L251.6 267.6 L246.3 263.4 L240.0 256.5 L234.2 254.2 L225.7 250.8 L217.8 247.6 L211.8 247.4 L213.5 238.8 L217.8 237.1 L219.5 230.3 L218.6 220.0 L217.1 213.2 L218.3 209.3 Z" fill="none" stroke="#868686" stroke-width="1.5" stroke-linejoin="round"/>
<path d="M211.8 247.4 L207.5 251.6 L204.1 256.8 L209.2 259.3 L212.6 269.6 L214.3 273.9 L221.2 275.6 L229.7 281.6 L234.9 288.4 L237.4 298.7 L238.3 307.2 L246.3 307.6 L253.2 307.6 L253.7 297.1 L254.7 288.7 L257.9 282.4 L262.1 280.3 L260.5 279.2 L255.8 272.9 L251.6 267.6 L246.3 263.4 L240.0 256.5 L234.2 254.2 L225.7 250.8 L217.8 247.6 L211.8 247.4 Z" fill="none" stroke="#868686" stroke-width="1.5" stroke-linejoin="round"/>
<path d="M217.1 674.8 L220.1 679.7 L218.1 685.7 L224.0 689.6 L230.9 699.5 L238.8 707.4 L248.7 713.3 L256.6 716.2 L260.5 719.2 L258.5 723.2 L248.7 725.1 L242.8 727.1 L232.9 724.1 L223.0 722.2 L217.1 723.2 Z" fill="none" stroke="#868686" stroke-width="1.5" stroke-linejoin="round"/>
<path d="M177.2 542.6 L230.3 542.6 L230.3 548.9 L235.4 557.5 L244.0 562.6 L250.8 564.3 L253.4 567.8 L252.5 576.3 L250.0 580.5 L246.0 585.0 L240.5 590.0 L235.0 595.0 L230.5 600.5 L228.8 610.8 L225.4 617.6 L218.6 621.1 L213.4 627.9 L210.9 634.7 L210.9 648.4 L213.4 657.0 L218.6 667.2 L210.0 665.5 L199.7 661.8 L187.8 660.4 L173.2 659.5 L170.7 655.3 L169.0 648.4 L169.8 638.2 L167.2 633.0 L157.0 633.0 L153.6 624.5 L153.6 614.2 L154.4 605.7 L158.7 602.2 L162.1 599.0 L166.2 597.1 L166.4 592.0 L169.0 586.8 L167.2 580.0 L168.7 576.3 L172.1 566.1 L173.8 559.2 L177.2 554.1 L184.1 553.2 L180.7 550.7 L175.5 547.2 L177.2 542.6 Z" fill="none" stroke="#868686" stroke-width="1.5" stroke-linejoin="round"/>
<path d="M238.3 307.2 L246.3 307.6 L253.2 307.6 L257.9 308.7 L262.1 312.9 L264.2 318.2 L263.7 328.7 L262.6 335.0 L262.2 345.0 L262.2 356.4 L262.2 372.4 L242.5 372.4 L242.3 370.9 L244.0 364.1 L243.2 353.8 L239.7 341.8 L236.3 329.9 L234.6 321.3 L233.0 312.5 L232.9 309.3 L238.3 307.2 Z" fill="none" stroke="#868686" stroke-width="1.5" stroke-linejoin="round"/>
<path d="M291.7 345.9 L297.0 346.6 L305.8 346.7 L311.0 340.0 L316.8 333.8 L320.5 333.8 L323.4 329.9 L325.1 330.1 L330.0 332.6 L337.9 336.8 L346.4 340.1 L348.7 346.3 L352.1 350.5 L356.7 353.8 L359.0 357.4 L363.2 362.5 L362.4 369.3 L365.8 375.3 L369.2 379.6 L369.4 384.7 L366.6 391.6 L362.4 400.1 L359.0 405.3 L350.4 410.4 L338.4 414.7 L326.4 417.2 L312.8 419.0 L300.8 419.0 L297.4 418.1 L298.2 422.4 L300.8 427.5 L299.9 434.3 L297.4 441.2 L298.2 448.0 L297.4 452.3 L291.4 454.5 L284.0 455.5 L284.0 425.6 L284.0 356.4 L284.0 346.6 L291.7 345.9 Z" fill="#55595e" stroke="#55595e" stroke-width="1.3" stroke-linejoin="round"/>
<path d="M268.4 722.2 L273 720.3 L279.3 719.2 L278.5 721.2 L273 722.8 Z" fill="#eaeaeb" stroke="#6d6d6d" stroke-width="1"/>
<path d="M289.8 290.5 L293 288 L298.5 287.8 L300.3 290.5 L298 293.8 L292 294.3 Z" fill="#ffffff" stroke="#777" stroke-width="0.9"/>
<path d="M212.8 530 L215 531.5 L218 535 L216.5 537 L214 536 L213 533 Z" fill="#f4f4f4" stroke="#777" stroke-width="0.9"/>
</g>
<text x="26.0" y="803.3" font-family="Liberation Sans, sans-serif" font-size="16" fill="#7b7b7b" text-anchor="start" textLength="217.5" lengthAdjust="spacingAndGlyphs" >© OpenStreetMap contributors</text>
<rect x="505" y="87" width="216" height="672.5" fill="#ffffff"/>
<text x="512.6" y="108.55" font-family="Liberation Sans, sans-serif" font-size="16.8" fill="#333333" text-anchor="start" textLength="70.5" lengthAdjust="spacingAndGlyphs" >Provincia</text>
<rect x="640.5" y="115.40" width="79.5" height="26.02" fill="#703131"/>
<rect x="640.5" y="141.37" width="79.5" height="26.87" fill="#b78a89"/>
<rect x="640.5" y="168.18" width="79.5" height="26.87" fill="#c9a6a6"/>
<rect x="640.5" y="195.00" width="79.5" height="26.87" fill="#cbaaaa"/>
<rect x="640.5" y="221.82" width="79.5" height="26.87" fill="#d1b3b5"/>
<rect x="640.5" y="248.63" width="79.5" height="26.87" fill="#d3b5b7"/>
<rect x="640.5" y="275.45" width="79.5" height="26.87" fill="#d3b6b8"/>
<rect x="640.5" y="302.27" width="79.5" height="26.87" fill="#d7babc"/>
<rect x="640.5" y="329.09" width="79.5" height="26.87" fill="#dcc5c6"/>
<rect x="640.5" y="355.90" width="79.5" height="26.87" fill="#dcc5c6"/>
<rect x="640.5" y="382.72" width="79.5" height="26.87" fill="#dfcdcd"/>
<rect x="640.5" y="409.54" width="79.5" height="26.87" fill="#e0cfcf"/>
<rect x="640.5" y="436.35" width="79.5" height="26.87" fill="#e2d3d3"/>
<rect x="640.5" y="463.17" width="79.5" height="26.87" fill="#e4d7d7"/>
<rect x="640.5" y="489.99" width="79.5" height="26.87" fill="#e5d9d9"/>
<rect x="640.5" y="516.80" width="79.5" height="26.87" fill="#e5dada"/>
<rect x="640.5" y="543.62" width="79.5" height="26.87" fill="#e5dada"/>
<rect x="640.5" y="570.44" width="79.5" height="26.87" fill="#e5dbdb"/>
<rect x="640.5" y="597.26" width="79.5" height="26.87" fill="#e5dbdb"/>
<rect x="640.5" y="624.07" width="79.5" height="26.87" fill="#e6dbdb"/>
<rect x="640.5" y="650.89" width="79.5" height="26.87" fill="#e8e2e2"/>
<rect x="640.5" y="677.71" width="79.5" height="26.87" fill="#ebe8e8"/>
<rect x="640.5" y="704.52" width="79.5" height="26.87" fill="#eceaea"/>
<rect x="640.5" y="731.34" width="79.5" height="26.87" fill="#efefef"/>
<text x="512.7" y="133.0" font-family="Liberation Sans, sans-serif" font-size="16.8" fill="#575757" text-anchor="start" >Buenos Aires</text>
<text x="715.9" y="133.95" font-family="Liberation Sans, sans-serif" font-size="16.5" fill="#ffffff" text-anchor="end" letter-spacing="0.6">19,101</text>
<text x="512.7" y="159.82" font-family="Liberation Sans, sans-serif" font-size="16.8" fill="#575757" text-anchor="start" >Mendoza</text>
<text x="715.9" y="160.77" font-family="Liberation Sans, sans-serif" font-size="16.5" fill="#ffffff" text-anchor="end" letter-spacing="0.6">9,015</text>
<text x="512.7" y="186.63" font-family="Liberation Sans, sans-serif" font-size="16.8" fill="#575757" text-anchor="start" >Chaco</text>
<text x="715.9" y="187.58" font-family="Liberation Sans, sans-serif" font-size="16.5" fill="#222222" text-anchor="end" letter-spacing="0.6">6,433</text>
<text x="512.7" y="213.45" font-family="Liberation Sans, sans-serif" font-size="16.8" fill="#575757" text-anchor="start" >Entre Ríos</text>
<text x="715.9" y="214.4" font-family="Liberation Sans, sans-serif" font-size="16.5" fill="#222222" text-anchor="end" letter-spacing="0.6">6,107</text>
<text x="512.7" y="240.27" font-family="Liberation Sans, sans-serif" font-size="16.8" fill="#575757" text-anchor="start" >Misiones</text>
<text x="715.9" y="241.22" font-family="Liberation Sans, sans-serif" font-size="16.5" fill="#222222" text-anchor="end" letter-spacing="0.6">5,342</text>
<text x="512.7" y="267.08" font-family="Liberation Sans, sans-serif" font-size="16.8" fill="#575757" text-anchor="start" >CABA</text>
<text x="715.9" y="268.03" font-family="Liberation Sans, sans-serif" font-size="16.5" fill="#222222" text-anchor="end" letter-spacing="0.6">5,154</text>
<text x="512.7" y="293.9" font-family="Liberation Sans, sans-serif" font-size="16.8" fill="#575757" text-anchor="start" >Tucumán</text>
<text x="715.9" y="294.85" font-family="Liberation Sans, sans-serif" font-size="16.5" fill="#222222" text-anchor="end" letter-spacing="0.6">5,098</text>
<text x="512.7" y="320.72" font-family="Liberation Sans, sans-serif" font-size="16.8" fill="#575757" text-anchor="start" >Salta</text>
<text x="715.9" y="321.67" font-family="Liberation Sans, sans-serif" font-size="16.5" fill="#222222" text-anchor="end" letter-spacing="0.6">4,669</text>
<text x="512.7" y="347.54" font-family="Liberation Sans, sans-serif" font-size="16.8" fill="#575757" text-anchor="start" >San Juan</text>
<text x="715.9" y="348.49" font-family="Liberation Sans, sans-serif" font-size="16.5" fill="#222222" text-anchor="end" letter-spacing="0.6">3,952</text>
<text x="512.7" y="374.35" font-family="Liberation Sans, sans-serif" font-size="16.8" fill="#575757" text-anchor="start" >Jujuy</text>
<text x="715.9" y="375.3" font-family="Liberation Sans, sans-serif" font-size="16.5" fill="#222222" text-anchor="end" letter-spacing="0.6">3,943</text>
<text x="512.7" y="401.17" font-family="Liberation Sans, sans-serif" font-size="16.8" fill="#575757" text-anchor="start" >Santiago del Es..</text>
<text x="715.9" y="402.12" font-family="Liberation Sans, sans-serif" font-size="16.5" fill="#222222" text-anchor="end" letter-spacing="0.6">3,408</text>
<text x="512.7" y="427.99" font-family="Liberation Sans, sans-serif" font-size="16.8" fill="#575757" text-anchor="start" >Córdoba</text>
<text x="715.9" y="428.94" font-family="Liberation Sans, sans-serif" font-size="16.5" fill="#222222" text-anchor="end" letter-spacing="0.6">3,243</text>
<text x="512.7" y="454.8" font-family="Liberation Sans, sans-serif" font-size="16.8" fill="#575757" text-anchor="start" >Río Negro</text>
<text x="715.9" y="455.75" font-family="Liberation Sans, sans-serif" font-size="16.5" fill="#222222" text-anchor="end" letter-spacing="0.6">2,875</text>
<text x="512.7" y="481.62" font-family="Liberation Sans, sans-serif" font-size="16.8" fill="#575757" text-anchor="start" >Formosa</text>
<text x="715.9" y="482.57" font-family="Liberation Sans, sans-serif" font-size="16.5" fill="#222222" text-anchor="end" letter-spacing="0.6">2,554</text>
<text x="512.7" y="508.44" font-family="Liberation Sans, sans-serif" font-size="16.8" fill="#575757" text-anchor="start" >Corrientes</text>
<text x="715.9" y="509.39" font-family="Liberation Sans, sans-serif" font-size="16.5" fill="#222222" text-anchor="end" letter-spacing="0.6">2,351</text>
<text x="512.7" y="535.25" font-family="Liberation Sans, sans-serif" font-size="16.8" fill="#575757" text-anchor="start" >Santa Fe</text>
<text x="715.9" y="536.2" font-family="Liberation Sans, sans-serif" font-size="16.5" fill="#222222" text-anchor="end" letter-spacing="0.6">2,320</text>
<text x="512.7" y="562.07" font-family="Liberation Sans, sans-serif" font-size="16.8" fill="#575757" text-anchor="start" >La Pampa</text>
<text x="715.9" y="563.02" font-family="Liberation Sans, sans-serif" font-size="16.5" fill="#222222" text-anchor="end" letter-spacing="0.6">2,284</text>
<text x="512.7" y="588.89" font-family="Liberation Sans, sans-serif" font-size="16.8" fill="#575757" text-anchor="start" >Chubut</text>
<text x="715.9" y="589.84" font-family="Liberation Sans, sans-serif" font-size="16.5" fill="#222222" text-anchor="end" letter-spacing="0.6">2,203</text>
<text x="512.7" y="615.71" font-family="Liberation Sans, sans-serif" font-size="16.8" fill="#575757" text-anchor="start" >Neuquén</text>
<text x="715.9" y="616.66" font-family="Liberation Sans, sans-serif" font-size="16.5" fill="#222222" text-anchor="end" letter-spacing="0.6">2,189</text>
<text x="512.7" y="642.52" font-family="Liberation Sans, sans-serif" font-size="16.8" fill="#575757" text-anchor="start" >Catamarca</text>
<text x="715.9" y="643.47" font-family="Liberation Sans, sans-serif" font-size="16.5" fill="#222222" text-anchor="end" letter-spacing="0.6">2,152</text>
<text x="512.7" y="669.34" font-family="Liberation Sans, sans-serif" font-size="16.8" fill="#575757" text-anchor="start" >La Rioja</text>
<text x="715.9" y="670.29" font-family="Liberation Sans, sans-serif" font-size="16.5" fill="#222222" text-anchor="end" letter-spacing="0.6">1,539</text>
<text x="512.7" y="696.16" font-family="Liberation Sans, sans-serif" font-size="16.8" fill="#575757" text-anchor="start" >Tierra del Fuego</text>
<text x="715.9" y="697.11" font-family="Liberation Sans, sans-serif" font-size="16.5" fill="#222222" text-anchor="end" letter-spacing="0.6">1,106</text>
<text x="512.7" y="722.97" font-family="Liberation Sans, sans-serif" font-size="16.8" fill="#575757" text-anchor="start" >Santa Cruz</text>
<text x="715.9" y="723.92" font-family="Liberation Sans, sans-serif" font-size="16.5" fill="#222222" text-anchor="end" letter-spacing="0.6">977</text>
<text x="512.7" y="749.79" font-family="Liberation Sans, sans-serif" font-size="16.8" fill="#575757" text-anchor="start" >San Luis</text>
<text x="715.9" y="750.74" font-family="Liberation Sans, sans-serif" font-size="16.5" fill="#222222" text-anchor="end" letter-spacing="0.6">609</text>
<rect x="505" y="114.1" width="215" height="1.3" fill="#d2d2d2"/>
<rect x="639.6" y="115.4" width="1" height="642.6" fill="#cccccc"/>
<rect x="719.5" y="115.4" width="1" height="642.6" fill="#d0d0d0"/>
<rect x="505" y="757.6" width="215.5" height="1.2" fill="#c6c6c6"/>
</svg>
</body></html>
